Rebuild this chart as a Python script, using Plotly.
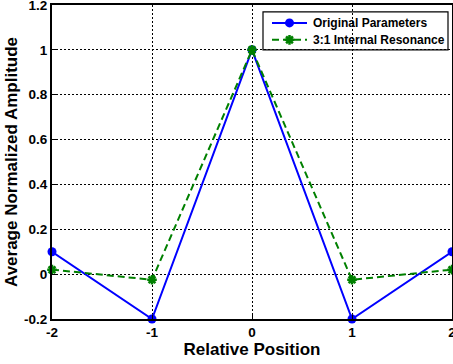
import plotly.graph_objects as go

positions = [-2, -1, 0, 1, 2]
original = [0.1, -0.2, 1.0, -0.2, 0.1]
resonance = [0.02, -0.025, 1.0, -0.025, 0.02]

series_names = ["Original Parameters", "3:1 Internal Resonance"]

x_ticks = [-2, -1, 0, 1, 2]
x_tick_text = ["-2", "-1", "0", "1", "2"]
y_ticks = [-0.2, 0, 0.2, 0.4, 0.6, 0.8, 1, 1.2]
y_tick_text = ["-0.2", "0", "0.2", "0.4", "0.6", "0.8", "1", "1.2"]

FONT = "Liberation Sans, Arial, sans-serif"
BLUE = "#0000ff"
GREEN = "#008000"

blue_line = dict(color=BLUE, width=2)
blue_marker = dict(symbol="circle", size=9, color=BLUE)
green_line = dict(color=GREEN, width=2, dash="7px,4px")
green_marker = dict(symbol="asterisk-open", size=8, color=GREEN,
                    line=dict(color=GREEN, width=2.5))

fig = go.Figure()
fig.add_trace(go.Scatter(
    x=positions, y=original, name=series_names[0],
    mode="lines+markers", line=blue_line, marker=blue_marker,
    cliponaxis=False, showlegend=False,
))
fig.add_trace(go.Scatter(
    x=positions, y=resonance, name=series_names[1],
    mode="lines+markers", line=green_line, marker=green_marker,
    cliponaxis=False, showlegend=False,
))

# Boxed legend in the top-right corner (fractions of the plot area)
LEG_X0, LEG_X1, LEG_Y0, LEG_Y1 = 0.5275, 0.99, 0.857, 0.978
ROW_Y = [0.943, 0.889]
SAMPLE_X = [0.55, 0.6375]
TEXT_X = 0.6475

fig.add_shape(type="rect", xref="paper", yref="paper",
              x0=LEG_X0, x1=LEG_X1, y0=LEG_Y0, y1=LEG_Y1,
              fillcolor="white", line=dict(color="#000000", width=1.2),
              layer="between")
for row_y, name, line, marker in zip(
        ROW_Y, series_names, [blue_line, green_line], [blue_marker, green_marker]):
    fig.add_trace(go.Scatter(
        x=SAMPLE_X, y=[row_y, row_y], xaxis="x2", yaxis="y2",
        mode="lines", line=line, showlegend=False, hoverinfo="skip",
    ))
    fig.add_trace(go.Scatter(
        x=[sum(SAMPLE_X) / 2], y=[row_y], xaxis="x2", yaxis="y2",
        mode="markers", marker=marker, showlegend=False, hoverinfo="skip",
    ))
    fig.add_annotation(x=TEXT_X, y=row_y, xref="paper", yref="paper",
                       text=name, showarrow=False, xanchor="left",
                       yanchor="middle",
                       font=dict(family=FONT, size=12, color="#000000",
                                 weight="bold"))

axis_common = dict(
    showgrid=True, gridcolor="#000000", griddash="2px,2px", gridwidth=1,
    showline=True, linecolor="#000000", linewidth=2, mirror=True,
    ticks="inside", ticklen=4, tickcolor="#000000",
    zeroline=False, ticklabeloverflow="allow", automargin=False,
    tickfont=dict(family=FONT, size=13.5, color="#000000", weight="bold"),
)

fig.update_layout(
    width=453, height=364,
    margin=dict(l=52, r=1, t=5, b=45, autoexpand=False),
    paper_bgcolor="white", plot_bgcolor="white",
    font=dict(family=FONT, color="#000000"),
    xaxis=dict(
        range=[-2, 2.00001], tickvals=x_ticks, ticktext=x_tick_text,
        title=dict(text="Relative Position", standoff=0,
                   font=dict(family=FONT, size=17, weight="bold")),
        **axis_common,
    ),
    yaxis=dict(
        range=[-0.2, 1.20001], tickvals=y_ticks, ticktext=y_tick_text,
        title=dict(text="Average Normalized Amplitude", standoff=2,
                   font=dict(family=FONT, size=17, weight="bold")),
        **axis_common,
    ),
    xaxis2=dict(overlaying="x", range=[0, 1], visible=False, fixedrange=True),
    yaxis2=dict(overlaying="y", range=[0, 1], visible=False, fixedrange=True),
    showlegend=False,
)

fig.write_html("out.html")
